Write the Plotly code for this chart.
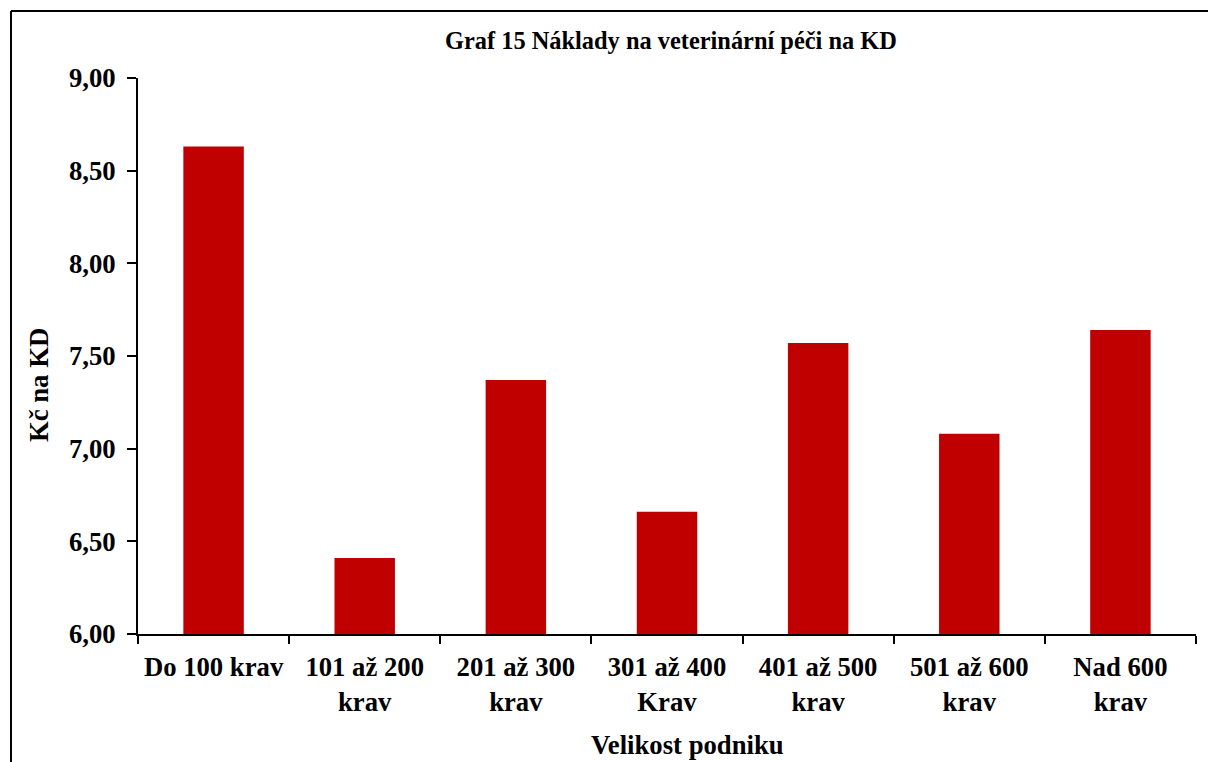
import plotly.graph_objects as go

categories = ["Do 100 krav", "101 až 200<br>krav", "201 až 300<br>krav", "301 až 400<br>Krav",
              "401 až 500<br>krav", "501 až 600<br>krav", "Nad 600<br>krav"]
values = [8.63, 6.41, 7.37, 6.66, 7.57, 7.08, 7.64]
y_ticks = [6.0, 6.5, 7.0, 7.5, 8.0, 8.5, 9.0]

FONT = "Liberation Serif, Times New Roman, serif"
W, H = 1208, 762
L, R, T, B = 138, 12, 78, 128
pw, ph = W - L - R, H - T - B

def px_x(x):
    return (x - L) / pw

def px_y(y):
    return (H - B - y) / ph

fig = go.Figure(go.Bar(x=categories, y=values, marker=dict(color="#C00000", line=dict(width=0))))

fig.update_layout(
    width=W, height=H, autosize=False,
    margin=dict(l=L, r=R, t=T, b=B, pad=0),
    paper_bgcolor="white", plot_bgcolor="white",
    bargap=0.6, showlegend=False,
    separators=", ",
    font=dict(family=FONT, size=26.7, color="black"),
)
fig.update_xaxes(
    showline=True, linecolor="black", linewidth=2,
    ticks="outside", tickson="boundaries", ticklen=8, tickwidth=2, tickcolor="black",
    showgrid=False, tickfont=dict(family=FONT, size=26.7, color="black", weight="bold"),
    tickangle=0, ticklabelstandoff=8,
)
fig.update_yaxes(
    range=[6, 9], tickvals=y_ticks, tickformat=".2f",
    showline=True, linecolor="black", linewidth=2,
    ticks="outside", ticklen=9, tickwidth=2, tickcolor="black",
    showgrid=False, zeroline=False, ticklabelstandoff=6,
    tickfont=dict(family=FONT, size=26.7, color="black", weight="bold"),
)

# outer chart border (only top and left edges are visible in the reference)
fig.add_shape(type="line", xref="paper", yref="paper",
              x0=px_x(11), y0=px_y(11), x1=px_x(1208), y1=px_y(11),
              line=dict(color="black", width=2), layer="below")
fig.add_shape(type="line", xref="paper", yref="paper",
              x0=px_x(11), y0=px_y(11), x1=px_x(11), y1=px_y(762),
              line=dict(color="black", width=2), layer="below")

fig.add_annotation(text="<b>Graf 15 Náklady na veterinární péči na KD</b>", xref="paper", yref="paper",
                   x=px_x(671), y=px_y(41), xanchor="center", yanchor="middle", showarrow=False,
                   font=dict(family=FONT, size=24.4, color="black"))
fig.add_annotation(text="<b>Velikost podniku</b>", xref="paper", yref="paper",
                   x=px_x(687), y=px_y(745), xanchor="center", yanchor="middle", showarrow=False,
                   font=dict(family=FONT, size=26.7, color="black"))
fig.add_annotation(text="<b>Kč na KD</b>", xref="paper", yref="paper", textangle=-90,
                   x=px_x(39), y=px_y(385), xanchor="center", yanchor="middle", showarrow=False,
                   font=dict(family=FONT, size=26.7, color="black"))

fig.write_html("out.html", config={"displayModeBar": False},
               post_script="document.body.style.margin='0';document.body.style.overflow='hidden';")
